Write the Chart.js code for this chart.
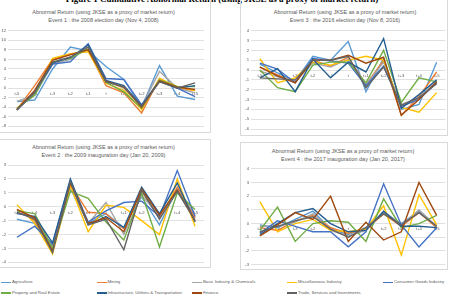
<!DOCTYPE html>
<html><head><meta charset="utf-8">
<script src="https://cdn.jsdelivr.net/npm/chart.js@4/dist/chart.umd.min.js"></script>
<style>
html,body{margin:0;padding:0;background:#fff;width:453px;height:303px;overflow:hidden;position:relative;}
.panel{position:absolute;border:1px solid #d9d9d9;box-sizing:border-box;}
.t{position:absolute;font-family:"Liberation Sans",Arial,sans-serif;color:#595959;white-space:nowrap;transform:translate(-50%,-50%);font-size:5.5px;line-height:6px;}
.main{position:absolute;left:222px;top:-5px;transform:translateX(-50%);font-family:"Liberation Serif","Times New Roman",serif;font-weight:bold;font-size:9px;line-height:9px;white-space:nowrap;color:#000;}
canvas{position:absolute;}
.lg{position:absolute;font-family:"Liberation Sans",Arial,sans-serif;color:#595959;font-size:4.3px;line-height:6px;white-space:nowrap;}
.lg i{position:absolute;left:0;top:2.3px;width:10px;height:1.4px;}
.lg span{position:absolute;left:11px;top:0;}
</style></head><body>
<div class="main">Figure 1 Cumulative Abnormal Return (using JKSE as a proxy of market return)</div>
<div class="panel" style="left:-1px;top:-3px;width:212px;height:136px"></div>
<div class="panel" style="left:240px;top:-3px;width:208px;height:139px"></div>
<div class="panel" style="left:-1px;top:139px;width:212px;height:129px"></div>
<div class="panel" style="left:240px;top:142px;width:208px;height:128px"></div>
<div id="titles"></div>
<canvas id="c1"></canvas><canvas id="c2"></canvas><canvas id="c3"></canvas><canvas id="c4"></canvas>
<div id="legend"></div>
<script>
// ---- data ----
const categories = ['t-5','t-4','t-3','t-2','t-1','t','t+1','t+2','t+3','t+4','t+5'];
const seriesNames = ['Agriculture','Mining','Basic Industry & Chemicals','Miscellaneous Industry','Consumer Goods Industry','Property and Real Estate','Infrastructure, Utilities & Transportation','Finance','Trade, Services and Investments'];
const seriesColors = ['#5B9BD5','#ED7D31','#A5A5A5','#FFC000','#4472C4','#70AD47','#255E91','#9E480E','#636363'];
const chartTitle = 'Abnormal Return (using JKSE  as a proxy of market return)';
const eventTitles = ['Event 1 : the 2008 election day (Nov 4, 2008)','Event 3 : the 2016 election day (Nov 8, 2016)','Event 2 : the 2009 inauguration day (Jan 20, 2009)','Event 4 : the 2017 inauguration day (Jan 20, 2017)'];

// Event 1 (rows follow seriesNames)
const event1Values = [
  [-2.8,-2.5,4.0,8.6,7.8,4.5,1.8,-4.0,4.7,-1.7,-2.4],
  [-4.5,0.5,6.0,7.0,8.0,0.5,-1.0,-5.2,2.0,0.0,-0.5],
  [-2.8,-1.5,5.0,6.0,8.5,1.5,0.0,-3.8,3.5,0.0,-1.0],
  [-4.3,-1.2,6.2,7.2,7.6,1.0,-0.5,-4.5,2.0,0.3,-0.5],
  [-4.5,-1.0,5.0,5.5,9.3,2.0,1.8,-3.5,1.5,0.0,-1.8],
  [-4.2,-1.5,5.5,6.2,8.2,1.2,-0.8,-4.2,1.7,0.3,0.3],
  [-4.6,-0.8,5.2,6.4,9.0,1.6,0.5,-3.7,1.4,0.0,0.5],
  [-4.5,-0.5,5.8,7.0,8.0,1.4,0.2,-4.0,1.5,0.2,-0.3],
  [-4.6,-0.9,5.4,6.5,8.6,1.3,0.3,-3.8,1.3,0.0,1.1]
];
// Event 3
const event3Values = [
  [0.6,-0.3,-1.1,1.4,1.0,2.9,-2.2,1.2,-4.0,-3.5,0.8],
  [0.3,-0.5,-1.2,1.0,0.4,1.3,-1.5,1.0,-4.6,-2.7,-0.2],
  [-0.1,-0.7,-1.1,0.7,0.3,1.1,-1.5,0.8,-3.5,-2.8,-1.2],
  [1.15,-1.3,-0.8,0.8,0.5,1.0,1.4,1.0,-3.8,-4.3,-2.3],
  [0.7,0.1,-1.3,1.2,0.9,0.7,-1.6,0.4,-3.7,-3.0,-1.3],
  [0.0,-1.8,-2.2,0.5,0.8,0.8,-1.3,2.0,-3.3,-0.8,-1.2],
  [-0.8,0.15,-2.2,1.1,-0.8,0.8,-0.2,3.2,-3.9,-2.5,-1.0],
  [0.3,-0.6,-1.3,1.0,1.0,1.5,0.7,1.3,-4.6,-3.0,-1.2],
  [-0.8,-0.9,-1.0,1.0,1.0,1.4,-1.8,0.3,-3.6,-2.8,-1.4]
];
// Event 2
const event2Values = [
  [-0.9,-1.2,-2.9,1.3,-1.2,-0.5,-1.5,0.7,-1.3,1.3,-0.6],
  [-0.2,-1.0,-3.2,1.6,-0.4,-0.5,-1.6,1.1,-0.8,1.4,-0.8],
  [-0.4,-0.8,-2.9,1.4,-1.2,0.3,-2.0,0.8,-0.6,1.2,-0.5],
  [0.15,-1.2,-3.4,1.5,-1.8,0.1,-0.05,-1.0,-2.0,2.0,-1.4],
  [-2.2,-1.4,-2.7,1.9,-1.1,-0.3,0.3,0.4,-0.7,2.6,-0.7],
  [-0.3,-0.5,-3.0,1.1,0.6,-1.1,-2.4,1.0,-2.9,1.0,-0.2],
  [-0.5,-0.7,-2.6,2.0,-1.3,-0.7,-1.5,1.4,-0.5,1.7,-1.1],
  [-0.2,-0.8,-3.2,1.7,-1.2,-0.8,-1.8,1.3,-0.6,1.2,-1.0],
  [-0.4,-0.9,-3.3,1.8,-1.3,-0.9,-3.1,1.2,-0.9,1.1,-1.0]
];
// Event 4
const event4Values = [
  [-0.1,-0.3,0.3,0.9,-0.4,-0.8,-0.3,0.8,0.0,0.9,-0.2],
  [-0.3,-0.5,0.2,0.6,-0.3,-0.7,-0.4,0.7,-0.2,0.8,-0.3],
  [-0.2,-0.2,0.1,0.7,-0.5,-0.9,-0.5,0.9,-0.1,1.0,-0.2],
  [1.6,-0.6,0.0,0.3,-0.5,-0.6,-0.4,1.3,-2.3,2.1,-0.1],
  [-0.7,0.2,-0.2,-0.6,-0.6,-1.7,-0.6,2.9,-0.1,-1.7,-0.3],
  [-0.5,1.2,-1.3,0.0,0.2,0.1,-1.3,1.8,-0.3,0.0,0.6],
  [-0.8,0.0,0.8,1.1,0.0,-0.6,-0.5,0.9,-0.2,-0.2,-0.3],
  [-0.9,-0.1,0.8,0.3,2.0,-1.3,0.1,-1.2,-0.6,3.0,0.6],
  [-0.6,-0.2,0.2,0.5,-0.4,-1.0,-0.3,0.7,-0.1,0.8,-0.2]
];
// y-axis tick ranges per panel
const yMins  = [-8,-6,-4,-3];
const yMaxs  = [12,4,3,4];
const ySteps = [2,1,1,1];

// ---- layout (page pixels) ----
const panels = [
  {id:'c1', data:event1Values, area:{x0:8,  x1:204, y0:30.7, y1:126.3}, title:[103.5,12.4,19.8], r:0},
  {id:'c2', data:event3Values, area:{x0:251,x1:445.5, y0:30.7, y1:129}, title:[345,12.4,19.8], r:1},
  {id:'c3', data:event2Values, area:{x0:8,  x1:204, y0:165, y1:262.3}, title:[103.5,147.4,154.6], r:2},
  {id:'c4', data:event4Values, area:{x0:251,x1:445.5, y0:168.7, y1:264.7}, title:[343,151,158.6], r:3}
];

const titlesDiv = document.getElementById('titles');
panels.forEach((p,k)=>{
  const [cx,y1,y2] = p.title;
  [[chartTitle,y1],[eventTitles[k],y2]].forEach(([txt,y])=>{
    const d=document.createElement('div'); d.className='t'; d.textContent=txt;
    d.style.left=cx+'px'; d.style.top=y+'px'; titlesDiv.appendChild(d);
  });
});

panels.forEach(p=>{
  const a=p.area;
  const cl=Math.floor(a.x0)-10, ct=Math.floor(a.y0)-6;
  const cw=Math.ceil(a.x1)+4-cl, ch=Math.ceil(a.y1)+8-ct;
  const cv=document.getElementById(p.id);
  cv.width=cw; cv.height=ch; cv.style.left=cl+'px'; cv.style.top=ct+'px';
  cv.style.width=cw+'px'; cv.style.height=ch+'px';
  const yw=a.x0-cl-2;
  new Chart(cv,{
    type:'line',
    data:{labels:categories, datasets:p.data.map((vals,i)=>({
      label:seriesNames[i], data:vals, borderColor:seriesColors[i], backgroundColor:seriesColors[i],
      borderWidth:1.4, pointRadius:0, tension:0, fill:false, order:9-i
    }))},
    options:{
      responsive:false, animation:false, devicePixelRatio:1,
      layout:{padding:{left:2, top:a.y0-ct, right:cl+cw-a.x1, bottom:ct+ch-a.y1}},
      plugins:{legend:{display:false}, tooltip:{enabled:false}, title:{display:false}},
      scales:{
        x:{type:'category', offset:true, position:{y:0},
           grid:{display:false, drawTicks:false}, border:{display:false},
           ticks:{autoSkip:false, maxRotation:0, minRotation:0, padding:3.2, color:'#595959', font:{family:'Liberation Sans', size:4.2}}},
        y:{min:yMins[p.r], max:yMaxs[p.r],
           afterFit:(s)=>{s.width=yw;},
           grid:{color:'#d9d9d9', lineWidth:0.8, drawTicks:false}, border:{display:false},
           ticks:{stepSize:ySteps[p.r], padding:2, color:'#595959', font:{family:'Liberation Sans', size:4.2}}}
      }
    }
  });
});

// legend
const lg=document.getElementById('legend');
const cols=[1,96.5,192,287,383], rows=[279.3,290];
seriesNames.forEach((n,i)=>{
  const d=document.createElement('div'); d.className='lg';
  d.style.left=cols[i%5]+'px'; d.style.top=rows[Math.floor(i/5)]+'px';
  const ln=document.createElement('i'); ln.style.background=seriesColors[i];
  const sp=document.createElement('span'); sp.textContent=n;
  d.appendChild(ln); d.appendChild(sp); lg.appendChild(d);
});
</script>
</body></html>
